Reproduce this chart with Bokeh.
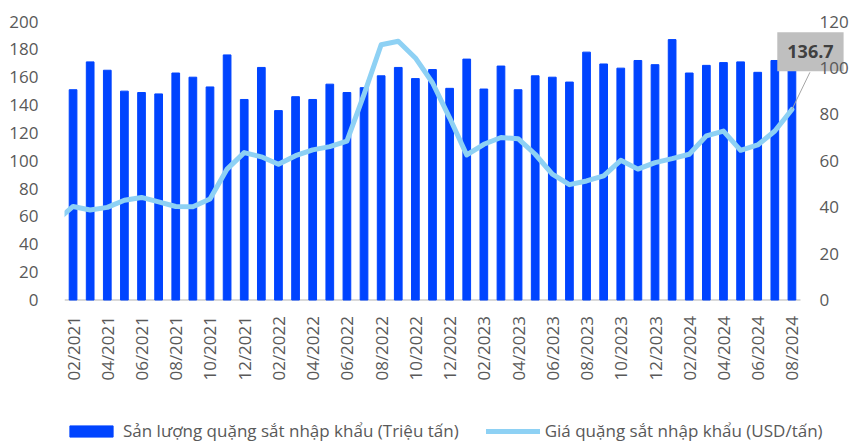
from math import pi
from bokeh.plotting import figure
from bokeh.models import Range1d, FixedTicker, Legend, LegendItem, Label, Arrow
from bokeh.core.properties import value
from bokeh.embed import file_html
from bokeh.resources import INLINE

# ---- data ----
months = [
    "02/2021", "03/2021", "04/2021", "05/2021", "06/2021", "07/2021", "08/2021", "09/2021",
    "10/2021", "11/2021", "12/2021", "01/2022", "02/2022", "03/2022", "04/2022", "05/2022",
    "06/2022", "07/2022", "08/2022", "09/2022", "10/2022", "11/2022", "12/2022", "01/2023",
    "02/2023", "03/2023", "04/2023", "05/2023", "06/2023", "07/2023", "08/2023", "09/2023",
    "10/2023", "11/2023", "12/2023", "01/2024", "02/2024", "03/2024", "04/2024", "05/2024",
    "06/2024", "07/2024", "08/2024",
]
volume = [151, 171, 165, 150, 149, 148, 163, 160, 153, 176, 144, 167, 136, 146, 144, 155,
          149, 152.5, 161, 167, 159, 165.5, 152, 173, 151.5, 168, 151, 161, 160, 156.5,
          178, 169.5, 166.5, 172, 169, 187, 163, 168.5, 170.5, 171, 163.5, 172, 168]
price = [40.3, 38.8, 39.9, 43, 44.2, 42.3, 40.3, 40.2, 43.5, 56.4, 63.5, 61.7, 58.5, 62.2,
         64.7, 66.1, 68.5, 88.6, 110, 111.5, 104.3, 93.6, 78.5, 62.5, 67.1, 70, 69.5, 62.8,
         54.2, 49.7, 51.3, 53.5, 60.2, 56.4, 59.2, 60.9, 62.8, 70.7, 72.8, 64.5, 66.8, 72.8, 82.1]
price_jan_2021 = 34
left_ticks = list(range(0, 201, 20))
right_ticks = list(range(0, 121, 20))
callout_text = "136.7"
legend_labels = ["Sản lượng quặng sắt nhập khẩu (Triệu tấn)", "Giá quặng sắt nhập khẩu (USD/tấn)"]

# ---- style / layout ----
FONT = "Open Sans"
GRAY = "#595959"
BAR = "#0044FF"
LINE = "#8ED1F4"
W, H = 851, 441
LEFT = 64                   # frame left (px)
TOP_VAL_Y = 21              # px position of the top tick value
BAR_AREA = 736              # px width of the category area
BASE_Y = 299.5              # px position of value 0
n = len(months)
cat_px = BAR_AREA / n
frame_w = W - LEFT
unit_px = (BASE_Y - TOP_VAL_Y) / left_ticks[-1]
y_min = -(H - BASE_Y) / unit_px
y_max = left_ticks[-1] + TOP_VAL_Y / unit_px
ratio = right_ticks[-1] / left_ticks[-1]

x = list(range(n))

p = figure(width=W, height=H, output_backend="svg", toolbar_location=None,
           x_range=Range1d(-0.5, -0.5 + frame_w / cat_px),
           y_range=Range1d(y_min, y_max),
           min_border_left=LEFT, min_border_right=0, min_border_top=0, min_border_bottom=0)
p.extra_y_ranges = {"right": Range1d(y_min * ratio, y_max * ratio)}
p.outline_line_color = None
p.xaxis.visible = False
p.xgrid.visible = False
p.ygrid.visible = False

# baseline of the category axis
p.segment(x0=[-0.5], x1=[n - 0.5], y0=[0], y1=[0], line_color="#D9D9D9", line_width=2)

bars = p.vbar(x=x, top=volume, width=0.45, fill_color=BAR, line_color=BAR)
line = p.line(x=[-1] + x, y=[price_jan_2021] + price, y_range_name="right",
              line_width=5, line_color=LINE, line_join="round", line_cap="round")

# left axis (native)
ya = p.yaxis[0]
ya.ticker = FixedTicker(ticks=left_ticks)
ya.axis_line_color = None
ya.major_tick_line_color = None
ya.minor_tick_line_color = None
ya.major_label_text_font = FONT
ya.major_label_text_font_size = "17px"
ya.major_label_text_color = GRAY
ya.major_label_standoff = 20

# category labels (every other month, rotated)
xt = x[::2]
p.text(x=xt, y=[0] * len(xt), text=[months[i] for i in xt], angle=pi / 2,
       y_offset=16, text_align="right", text_baseline="middle",
       text_font=value(FONT), text_font_size="17px", text_color=GRAY)

legend = Legend(items=[LegendItem(label=legend_labels[0], renderers=[bars]),
                       LegendItem(label=legend_labels[1], renderers=[line])],
                orientation="horizontal", location=(0, -1),
                glyph_width=54, glyph_height=14, label_standoff=5, spacing=27,
                label_text_font=FONT, label_text_font_size="17px", label_text_color=GRAY,
                border_line_color=None, background_fill_alpha=0, margin=0, padding=0)
p.add_layout(legend, "center")

p.add_layout(Arrow(end=None, x_start=x[-1], y_start=price[-1],
                   x_end=x[-1] + 1.05, y_end=price[-1] + 16.0, y_range_name="right",
                   line_color="#A6A6A6", line_width=1))
p.add_layout(Label(x=x[-1], y=price[-1], y_range_name="right", text=callout_text,
                   x_offset=18.5, y_offset=57.7, text_align="center", text_baseline="middle",
                   text_font=FONT, text_font_size="18px", text_font_style="bold",
                   text_color="#404040", background_fill_color="#BFBFBF", padding=(10, 13)))

# right axis labels (drawn above the callout, as in the reference)
p.text(x=[n - 0.5] * len(right_ticks), y=right_ticks, text=[str(t) for t in right_ticks],
       y_range_name="right", x_offset=19, text_align="left", text_baseline="middle",
       text_font=value(FONT), text_font_size="17px", text_color=GRAY, level="overlay")

open("out.html", "w").write(file_html(p, INLINE))
